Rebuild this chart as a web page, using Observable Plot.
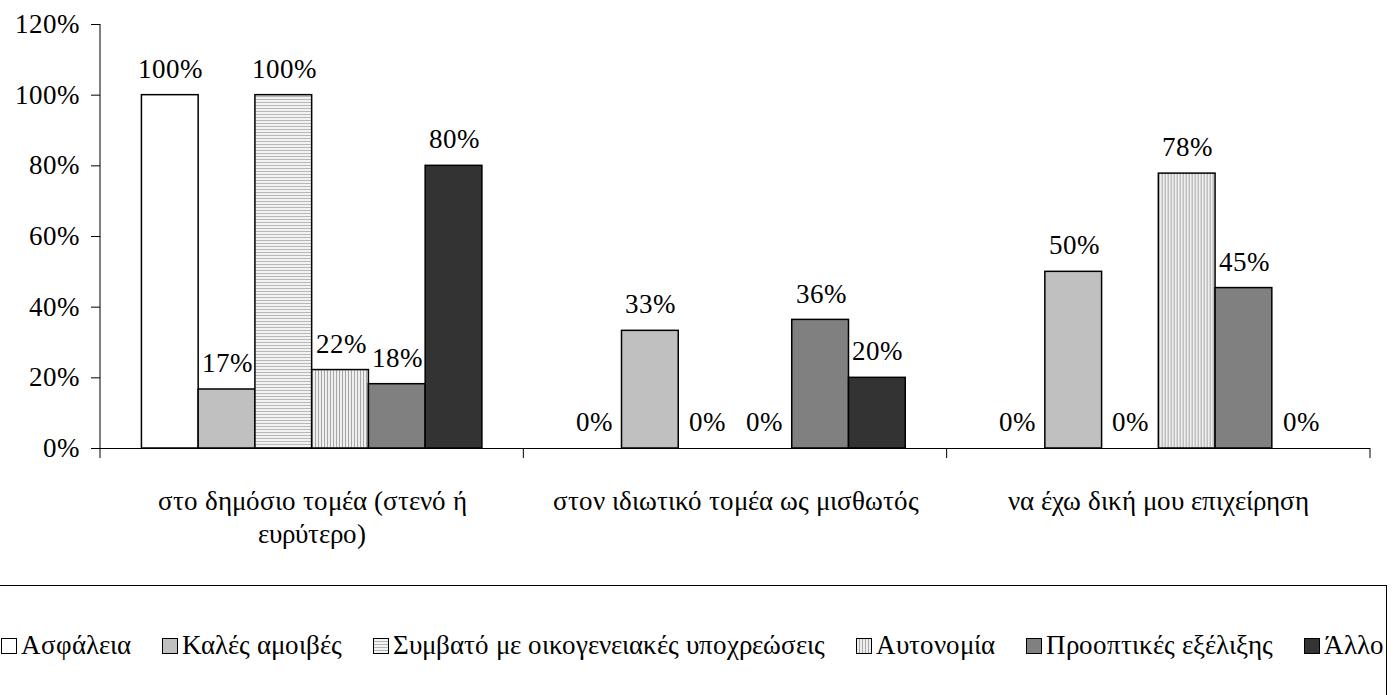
<!DOCTYPE html>
<html>
<head>
<meta charset="utf-8">
<style>
  @font-face { font-family: "RefSerif"; src: local("Liberation Serif"), local("LiberationSerif"), local("LiberationSerif-Regular"), local("Times New Roman"); }
  html, body { font-family: "RefSerif", "Liberation Serif", "Times New Roman", serif; }
  body { margin: 0; background: #fff; overflow: hidden; color: #000; }
  #legend { box-sizing: border-box; width: 1387px; height: 130px; border-top: 1.5px solid #000; border-right: 1.5px solid #000;
            display: flex; align-items: center; justify-content: space-between; padding: 0 2px 10px 1px; font-size: 27px; }
  .item { display: flex; align-items: center; white-space: nowrap; }
  .sw { width: 14px; height: 14px; border: 1.2px solid #000; margin-right: 4px; flex: none; }
</style>
<script src="https://cdn.jsdelivr.net/npm/d3@7"></script>
<script src="https://cdn.jsdelivr.net/npm/@observablehq/plot@0.6"></script>
</head>
<body>
<div id="chart"></div>
<div id="legend"></div>
<script>
// ---- data ----
const groups = [
  "στο δημόσιο τομέα (στενό ή ευρύτερο)",
  "στον ιδιωτικό τομέα ως μισθωτός",
  "να έχω δική μου επιχείρηση"
];
const groupLabels = [
  "στο δημόσιο τομέα (στενό ή\nευρύτερο)",
  "στον ιδιωτικό τομέα ως μισθωτός",
  "να έχω δική μου επιχείρηση"
];
const series = [
  "Ασφάλεια",
  "Καλές αμοιβές",
  "Συμβατό με οικογενειακές υποχρεώσεις",
  "Αυτονομία",
  "Προοπτικές εξέλιξης",
  "Άλλο"
];
const asfaleia   = [1.00, 0.000, 0.000];
const kales      = [0.167, 0.333, 0.500];
const symvato    = [1.00, 0.000, 0.000];
const aftonomia  = [0.222, 0.000, 0.778];
const prooptikes = [0.182, 0.364, 0.454];
const allo       = [0.800, 0.200, 0.000];
const yTicks = [0, 0.2, 0.4, 0.6, 0.8, 1.0, 1.2];

const seriesValues = [asfaleia, kales, symvato, aftonomia, prooptikes, allo];
const fills = ["#ffffff", "#c0c0c0", "url(#hstripe)", "url(#vstripe)", "#808080", "#333333"];
const legendFills = ["#ffffff", "#c0c0c0", "repeating-linear-gradient(0deg,#f2f2f2 0 2px,#b4b4b4 2px 3px)",
  "repeating-linear-gradient(90deg,#eeeeee 0 2px,#a8a8a8 2px 3px)", "#808080", "#333333"];

const rows = [];
series.forEach((s, si) => groups.forEach((g, gi) => rows.push({group: g, series: s, value: seriesValues[si][gi]})));
const fmt = d3.format(".0%");
const font = "RefSerif, 'Liberation Serif', 'Times New Roman', serif";
const fs = 27;

const plot = Plot.plot({
  width: 1400,
  height: 585,
  marginLeft: 100,
  marginRight: 30,
  marginTop: 24,
  marginBottom: 137,
  style: {fontFamily: font, fontSize: fs + "px", color: "#000", background: "#fff"},
  fx: {domain: groups, padding: 0, round: false, label: null},
  x: {domain: series, paddingInner: 0, paddingOuter: 0.73, round: false, axis: null},
  y: {domain: [0, 1.2], axis: null},
  color: {type: "ordinal", domain: series, range: fills},
  marks: [
    Plot.barY(rows, {fx: "group", x: "series", y: "value", fill: "series", stroke: "#000", strokeWidth: 1.5}),
    Plot.text(rows, {fx: "group", x: "series", y: "value", text: d => fmt(d.value), dy: -26, fontSize: fs, fontFamily: font, fill: "#000"}),
    Plot.ruleY([0], {stroke: "#000", strokeWidth: 1}),
    Plot.axisY({ticks: yTicks, tickFormat: fmt, tickSize: 9, tickPadding: 13, fontSize: fs, fontFamily: font, label: null}),
    Plot.axisFx({anchor: "bottom", tickSize: 0, tickPadding: 38, fontSize: fs, fontFamily: font, lineHeight: 1.22,
                 tickFormat: d => groupLabels[groups.indexOf(d)], label: null})
  ]
});

// patterns
const svg = d3.select(plot);
const defs = svg.insert("defs", ":first-child");
const hp = defs.append("pattern").attr("id", "hstripe").attr("patternUnits", "userSpaceOnUse").attr("width", 4).attr("height", 3);
hp.append("rect").attr("width", 4).attr("height", 3).attr("fill", "#f2f2f2");
hp.append("rect").attr("width", 4).attr("height", 1).attr("fill", "#b8b8b8");
const vp = defs.append("pattern").attr("id", "vstripe").attr("patternUnits", "userSpaceOnUse").attr("width", 3).attr("height", 4);
vp.append("rect").attr("width", 3).attr("height", 4).attr("fill", "#eeeeee");
vp.append("rect").attr("width", 1).attr("height", 4).attr("fill", "#a8a8a8");

// axis lines from the library's scales
const fxS = plot.scale("fx"), yS = plot.scale("y");
const axisG = svg.append("g").attr("stroke", "#000").attr("stroke-width", 1);
const x0 = fxS.apply(groups[0]);
axisG.append("line").attr("x1", x0).attr("x2", x0).attr("y1", yS.apply(1.2)).attr("y2", yS.apply(0));
const bounds = groups.map(g => fxS.apply(g)).concat([fxS.apply(groups[groups.length - 1]) + fxS.bandwidth]);
bounds.forEach(b => axisG.append("line").attr("x1", b).attr("x2", b).attr("y1", yS.apply(0)).attr("y2", yS.apply(0) + 10));

document.getElementById("chart").append(plot);

// legend
const leg = document.getElementById("legend");
series.forEach((s, i) => {
  const it = document.createElement("div");
  it.className = "item";
  const sw = document.createElement("span");
  sw.className = "sw";
  sw.style.background = legendFills[i];
  it.append(sw);
  const t = document.createElement("span");
  t.textContent = s;
  it.append(t);
  leg.append(it);
});
</script>
</body>
</html>
